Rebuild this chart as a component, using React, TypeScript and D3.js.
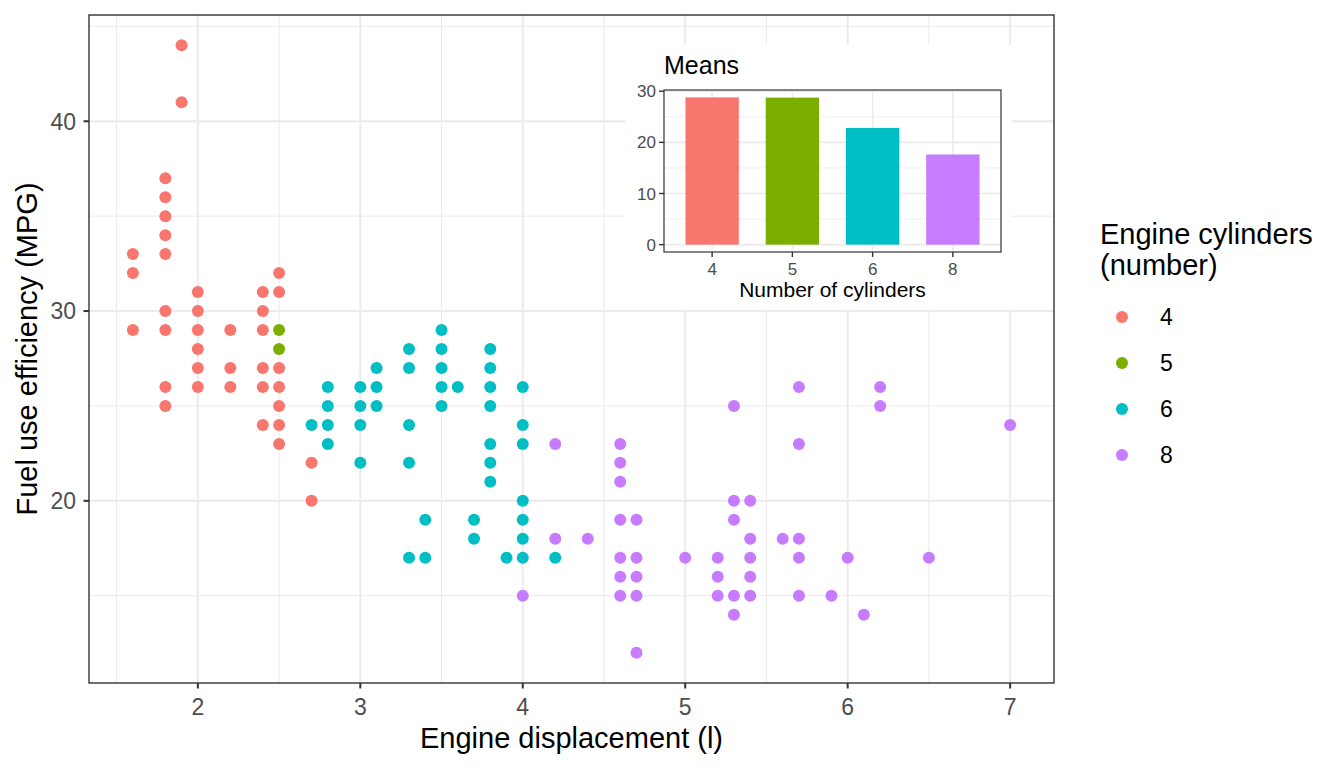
import React from 'react';
import * as d3 from 'd3';

// engine displacement (l) and highway mpg, one pair of arrays per cylinder count
const cyl4Displ = [1.6, 1.6, 1.6, 1.8, 1.8, 1.8, 1.8, 1.8, 1.8, 1.8, 1.8, 1.8, 1.9, 1.9, 2.0, 2.0, 2.0, 2.0, 2.0, 2.0, 2.2, 2.2, 2.2, 2.4, 2.4, 2.4, 2.4, 2.4, 2.4, 2.5, 2.5, 2.5, 2.5, 2.5, 2.5, 2.5, 2.7, 2.7];
const cyl4Hwy = [33, 32, 29, 37, 36, 35, 34, 33, 30, 29, 26, 25, 44, 41, 31, 30, 29, 28, 27, 26, 29, 27, 26, 31, 30, 29, 27, 26, 24, 32, 31, 27, 26, 25, 24, 23, 22, 20];

const cyl5Displ = [2.5, 2.5];
const cyl5Hwy = [29, 28];

const cyl6Displ = [2.7, 2.8, 2.8, 2.8, 2.8, 3.0, 3.0, 3.0, 3.0, 3.1, 3.1, 3.1, 3.3, 3.3, 3.3, 3.3, 3.3, 3.4, 3.4, 3.5, 3.5, 3.5, 3.5, 3.5, 3.6, 3.7, 3.7, 3.8, 3.8, 3.8, 3.8, 3.8, 3.8, 3.8, 3.9, 4.0, 4.0, 4.0, 4.0, 4.0, 4.0, 4.0, 4.2];
const cyl6Hwy = [24, 26, 25, 24, 23, 26, 25, 24, 22, 27, 26, 25, 28, 27, 24, 22, 17, 19, 17, 29, 28, 27, 26, 25, 26, 19, 18, 28, 27, 26, 25, 23, 22, 21, 17, 26, 24, 23, 20, 19, 18, 17, 17];

const cyl8Displ = [4.0, 4.2, 4.2, 4.4, 4.6, 4.6, 4.6, 4.6, 4.6, 4.6, 4.6, 4.7, 4.7, 4.7, 4.7, 4.7, 5.0, 5.2, 5.2, 5.2, 5.3, 5.3, 5.3, 5.3, 5.3, 5.4, 5.4, 5.4, 5.4, 5.4, 5.6, 5.7, 5.7, 5.7, 5.7, 5.7, 5.9, 6.0, 6.1, 6.2, 6.2, 6.5, 7.0];
const cyl8Hwy = [15, 23, 18, 18, 23, 22, 21, 19, 17, 16, 15, 19, 17, 16, 15, 12, 17, 17, 16, 15, 25, 20, 19, 15, 14, 20, 18, 17, 16, 15, 18, 26, 23, 18, 17, 15, 15, 17, 14, 26, 25, 17, 24];

// inset: mean highway mpg per cylinder count
const cylLabels = ['4', '5', '6', '8'];
const cylMeans = [28.8, 28.75, 22.82, 17.63];
const cylColors = ['#F8766D', '#7CAE00', '#00BFC4', '#C77CFF'];

const xTicks = [2, 3, 4, 5, 6, 7];
const xMinor = [1.5, 2.5, 3.5, 4.5, 5.5, 6.5];
const yTicks = [20, 30, 40];
const yMinor = [15, 25, 35, 45];
const insetTicks = [0, 10, 20, 30];
const insetMinor = [5, 15, 25];

const FONT = '"Liberation Sans", Arial, Helvetica, sans-serif';

const groups = [
  { label: '4', displ: cyl4Displ, hwy: cyl4Hwy },
  { label: '5', displ: cyl5Displ, hwy: cyl5Hwy },
  { label: '6', displ: cyl6Displ, hwy: cyl6Hwy },
  { label: '8', displ: cyl8Displ, hwy: cyl8Hwy },
];

const panel = { left: 89, right: 1054, top: 15, bottom: 683 };
const inset = { left: 664, right: 1001, top: 90, bottom: 252 };

const Inset = () => {
  const x = d3
    .scalePoint<string>()
    .domain(cylLabels)
    .range([inset.left, inset.right])
    .padding(0.6);
  const step = x.step();
  const maxMean = d3.max(cylMeans) || 30;
  const y = d3
    .scaleLinear()
    .domain([-maxMean * 0.05, maxMean * 1.05])
    .range([inset.bottom, inset.top]);
  const barW = step * 0.665;

  return (
    <g>
      <rect x={625} y={45} width={387} height={264} fill="#FFFFFF" />
      <text x={inset.left} y={74} fontSize={25} fill="#000">
        Means
      </text>
      {insetMinor.map((t) => (
        <line key={`im${t}`} x1={inset.left} x2={inset.right} y1={y(t)} y2={y(t)} stroke="#EBEBEB" strokeWidth={0.8} />
      ))}
      {insetTicks.map((t) => (
        <line key={`iy${t}`} x1={inset.left} x2={inset.right} y1={y(t)} y2={y(t)} stroke="#EBEBEB" strokeWidth={1.6} />
      ))}
      {cylLabels.map((c) => (
        <line key={`ix${c}`} x1={x(c)} x2={x(c)} y1={inset.top} y2={inset.bottom} stroke="#EBEBEB" strokeWidth={1.6} />
      ))}
      {cylLabels.map((c, i) => (
        <rect
          key={`bar${c}`}
          x={(x(c) || 0) - barW / 2}
          y={y(cylMeans[i])}
          width={barW}
          height={y(0) - y(cylMeans[i])}
          fill={cylColors[i]}
        />
      ))}
      <rect
        x={inset.left}
        y={inset.top}
        width={inset.right - inset.left}
        height={inset.bottom - inset.top}
        fill="none"
        stroke="#333333"
        strokeWidth={1.2}
      />
      {insetTicks.map((t) => (
        <g key={`iyt${t}`}>
          <line x1={inset.left - 5} x2={inset.left} y1={y(t)} y2={y(t)} stroke="#333333" strokeWidth={1.4} />
          <text x={inset.left - 8} y={y(t)} dy="0.36em" textAnchor="end" fontSize={17} fill="#4D4D4D">
            {t}
          </text>
        </g>
      ))}
      {cylLabels.map((c) => (
        <g key={`ixt${c}`}>
          <line x1={x(c)} x2={x(c)} y1={inset.bottom} y2={inset.bottom + 5} stroke="#333333" strokeWidth={1.4} />
          <text x={x(c)} y={275} textAnchor="middle" fontSize={17} fill="#4D4D4D">
            {c}
          </text>
        </g>
      ))}
      <text x={(inset.left + inset.right) / 2} y={297} textAnchor="middle" fontSize={21} fill="#000">
        Number of cylinders
      </text>
    </g>
  );
};

const App = () => {
  const allDispl = groups.flatMap((g) => g.displ);
  const allHwy = groups.flatMap((g) => g.hwy);
  const [xMin, xMax] = d3.extent(allDispl) as [number, number];
  const [yMin, yMax] = d3.extent(allHwy) as [number, number];
  const xPad = (xMax - xMin) * 0.05;
  const yPad = (yMax - yMin) * 0.05;

  const x = d3
    .scaleLinear()
    .domain([xMin - xPad, xMax + xPad])
    .range([panel.left, panel.right]);
  const y = d3
    .scaleLinear()
    .domain([yMin - yPad, yMax + yPad])
    .range([panel.bottom, panel.top]);

  const yIn = yMinor.filter((t) => y(t) >= panel.top && y(t) <= panel.bottom);
  const xIn = xMinor.filter((t) => x(t) >= panel.left && x(t) <= panel.right);

  return (
    <svg
      width={1344}
      height={768}
      style={{ position: 'absolute', left: 0, top: 0, background: '#FFFFFF' }}
      fontFamily={FONT}
    >
      <rect x={0} y={0} width={1344} height={768} fill="#FFFFFF" />
      {/* grid */}
      {yIn.map((t) => (
        <line key={`ym${t}`} x1={panel.left} x2={panel.right} y1={y(t)} y2={y(t)} stroke="#EBEBEB" strokeWidth={1} />
      ))}
      {xIn.map((t) => (
        <line key={`xm${t}`} x1={x(t)} x2={x(t)} y1={panel.top} y2={panel.bottom} stroke="#EBEBEB" strokeWidth={1} />
      ))}
      {yTicks.map((t) => (
        <line key={`yg${t}`} x1={panel.left} x2={panel.right} y1={y(t)} y2={y(t)} stroke="#EBEBEB" strokeWidth={2} />
      ))}
      {xTicks.map((t) => (
        <line key={`xg${t}`} x1={x(t)} x2={x(t)} y1={panel.top} y2={panel.bottom} stroke="#EBEBEB" strokeWidth={2} />
      ))}

      {/* points */}
      {groups.map((g, gi) =>
        g.displ.map((d, i) => (
          <circle key={`p${gi}-${i}`} cx={x(d)} cy={y(g.hwy[i])} r={6} fill={cylColors[gi]} />
        )),
      )}

      <Inset />

      <rect
        x={panel.left}
        y={panel.top}
        width={panel.right - panel.left}
        height={panel.bottom - panel.top}
        fill="none"
        stroke="#333333"
        strokeWidth={1.4}
      />

      {/* axes */}
      {xTicks.map((t) => (
        <g key={`xt${t}`}>
          <line x1={x(t)} x2={x(t)} y1={panel.bottom} y2={panel.bottom + 5.5} stroke="#333333" strokeWidth={2} />
          <text x={x(t)} y={715} textAnchor="middle" fontSize={23} fill="#4D4D4D">
            {t}
          </text>
        </g>
      ))}
      {yTicks.map((t) => (
        <g key={`yt${t}`}>
          <line x1={panel.left - 5.5} x2={panel.left} y1={y(t)} y2={y(t)} stroke="#333333" strokeWidth={2} />
          <text x={76} y={y(t)} dy="0.36em" textAnchor="end" fontSize={23} fill="#4D4D4D">
            {t}
          </text>
        </g>
      ))}
      <text x={(panel.left + panel.right) / 2} y={748} textAnchor="middle" fontSize={29} fill="#000">
        Engine displacement (l)
      </text>
      <text
        transform={`translate(37, ${(panel.top + panel.bottom) / 2}) rotate(-90)`}
        textAnchor="middle"
        fontSize={29}
        fill="#000"
      >
        Fuel use efficiency (MPG)
      </text>

      {/* legend */}
      <text x={1100} y={244} fontSize={29} fill="#000">
        Engine cylinders
      </text>
      <text x={1100} y={275} fontSize={29} fill="#000">
        (number)
      </text>
      {cylLabels.map((c, i) => (
        <g key={`lg${c}`} transform={`translate(0, ${317 + i * 46})`}>
          <circle cx={1122} cy={0} r={6} fill={cylColors[i]} />
          <text x={1160} y={0} dy="0.36em" fontSize={23} fill="#000">
            {c}
          </text>
        </g>
      ))}
    </svg>
  );
};

export default App;
